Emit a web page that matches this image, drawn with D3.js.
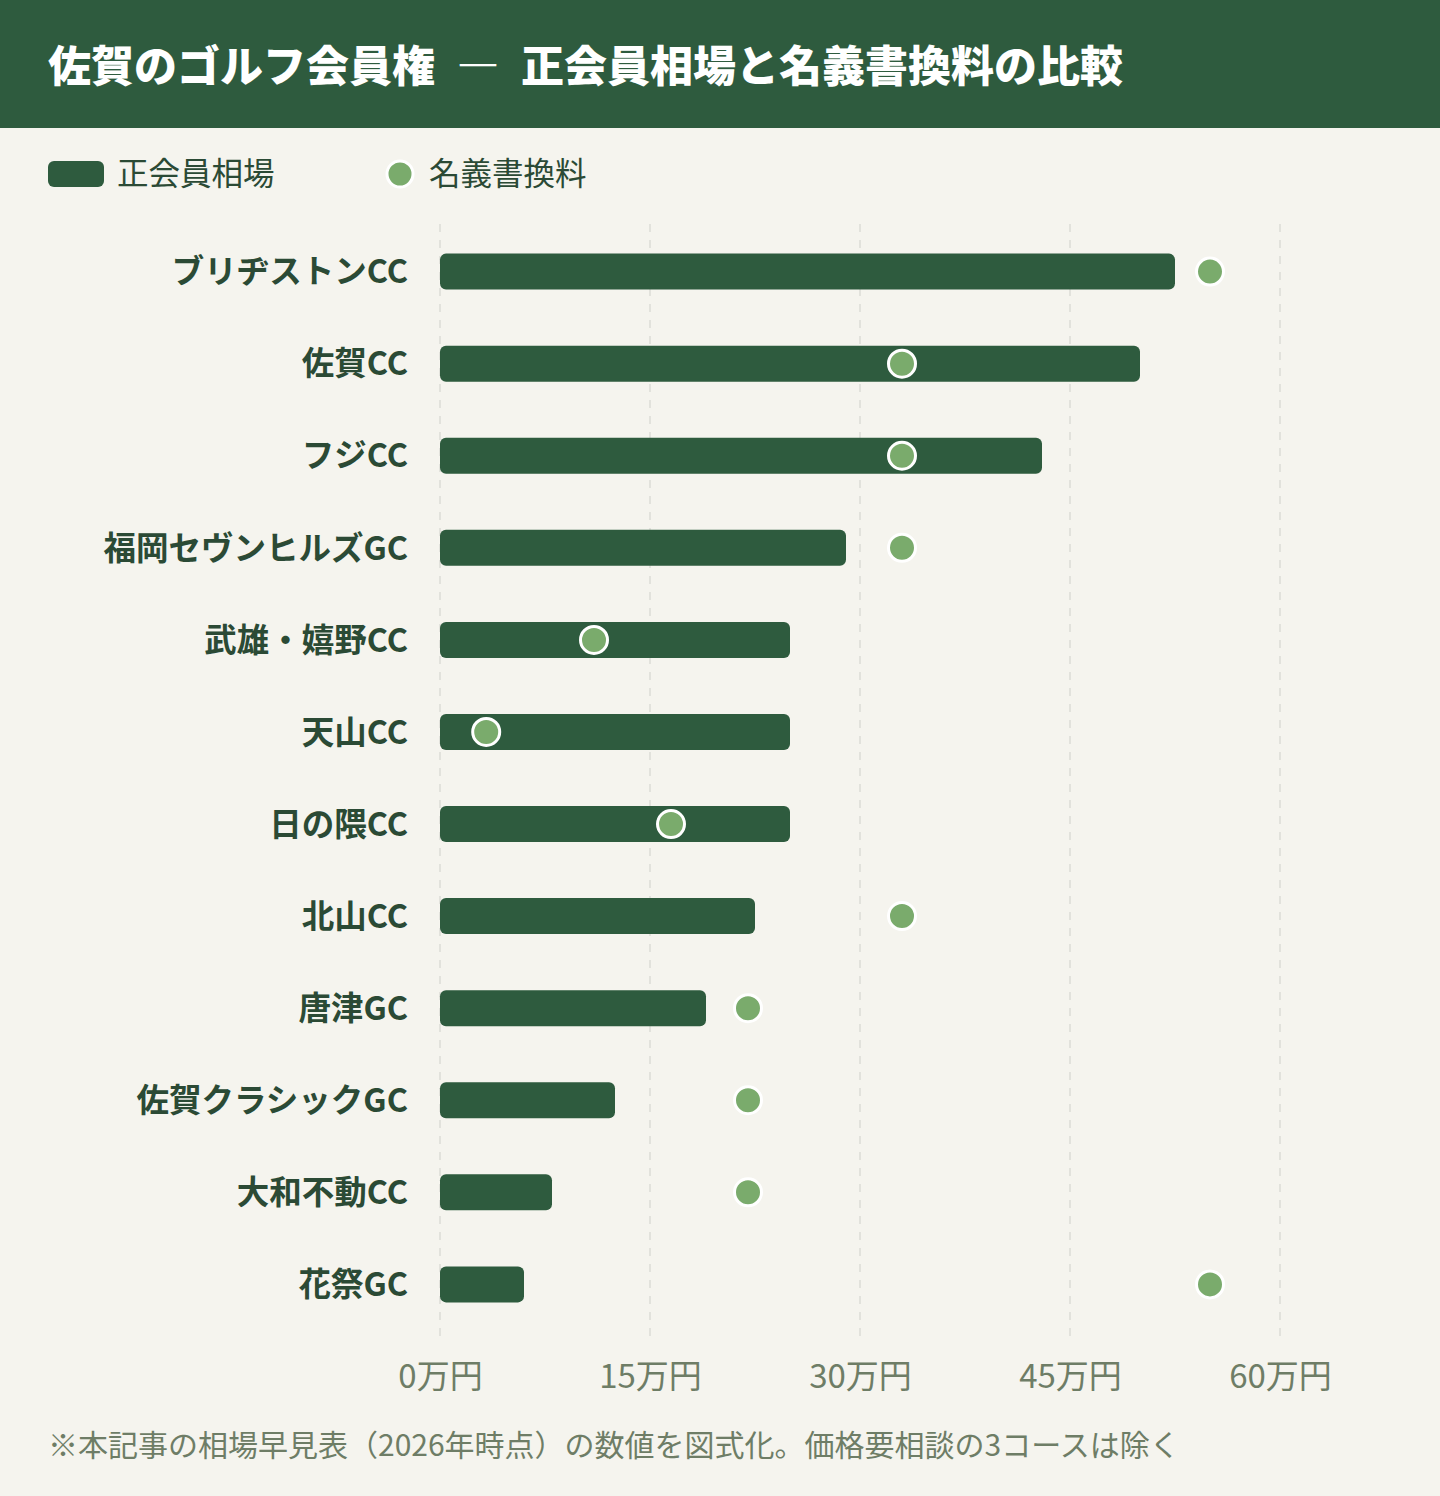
<!DOCTYPE html>
<html>
<head>
<meta charset="utf-8">
<script src="https://cdn.jsdelivr.net/npm/d3@7"></script>
<style>
  html, body { margin: 0; padding: 0; background: #f5f4ee; }
  body { font-family: "Noto Sans CJK JP", "Noto Sans", sans-serif; }
</style>
</head>
<body>
<div id="chart"></div>
<script>
// Course names, top to bottom
var courses = ["ブリヂストンCC", "佐賀CC", "フジCC", "福岡セヴンヒルズGC", "武雄・嬉野CC", "天山CC",
  "日の隈CC", "北山CC", "唐津GC", "佐賀クラシックGC", "大和不動CC", "花祭GC"];

// 正会員相場 (万円)
var memberPrice = [52.5, 50, 43, 29, 25, 25, 25, 22.5, 19, 12.5, 8, 6];

// 名義書換料 (万円)
var transferFee = [55, 33, 33, 33, 11, 3.3, 16.5, 33, 22, 22, 22, 55];

var tickValues = [0, 15, 30, 45, 60];

var seriesNames = ["正会員相場", "名義書換料"];

var width = 1440, height = 1496;
var darkGreen = "#2e5b3e", lightGreen = "#7aab6c", textGreen = "#2b4a35", grey = "#6e7d66";

var svg = d3.select("#chart")
    .append("svg")
    .attr("width", width)
    .attr("height", height);

svg.append("rect")
    .attr("width", width)
    .attr("height", height)
    .attr("fill", "#f5f4ee");

// Header band and title
svg.append("rect")
    .attr("width", width)
    .attr("height", 128)
    .attr("fill", darkGreen);

svg.append("text")
    .attr("x", 48)
    .attr("y", 82)
    .attr("fill", "#ffffff")
    .style("font-size", "43px")
    .style("font-weight", "900")
    .text("佐賀のゴルフ会員権\u2002―\u2002正会員相場と名義書換料の比較");

// Legend
var legend = svg.append("g");
legend.append("rect")
    .attr("x", 48).attr("y", 161)
    .attr("width", 56).attr("height", 26)
    .attr("rx", 6)
    .attr("fill", darkGreen);
legend.append("text")
    .attr("x", 117).attr("y", 185)
    .attr("fill", textGreen)
    .style("font-size", "31.5px")
    .text(seriesNames[0]);
legend.append("circle")
    .attr("cx", 400).attr("cy", 174).attr("r", 13)
    .attr("fill", lightGreen)
    .attr("stroke", "#ffffff")
    .attr("stroke-width", 3);
legend.append("text")
    .attr("x", 429).attr("y", 185)
    .attr("fill", textGreen)
    .style("font-size", "31.5px")
    .text(seriesNames[1]);

// Scales
var x = d3.scaleLinear()
    .domain([0, 60])
    .range([440, 1280]);

var y = d3.scaleBand()
    .domain(courses)
    .range([226, 1330])
    .paddingInner(0.609)
    .paddingOuter(0.3);

// Dashed grid lines
svg.append("g")
    .selectAll("line")
    .data(tickValues)
    .enter()
    .append("line")
    .attr("x1", function(d) { return x(d); })
    .attr("x2", function(d) { return x(d); })
    .attr("y1", 224)
    .attr("y2", 1336)
    .attr("stroke", "#dcdcd6")
    .attr("stroke-width", 1.5)
    .attr("stroke-dasharray", "8,8");

// X axis labels
var xAxis = d3.axisBottom(x)
    .tickValues(tickValues)
    .tickSize(0)
    .tickPadding(0)
    .tickFormat(function(d) { return d + "万円"; });

var axisG = svg.append("g")
    .attr("transform", "translate(0,1365)")
    .call(xAxis);
axisG.select(".domain").remove();
axisG.selectAll("text")
    .attr("fill", grey)
    .style("font-family", "'Noto Sans CJK JP', sans-serif")
    .style("font-size", "33px");

// Category labels
svg.append("g")
    .selectAll("text")
    .data(courses)
    .enter()
    .append("text")
    .attr("x", 408)
    .attr("y", function(d) { return y(d) + y.bandwidth() / 2; })
    .attr("dy", "0.36em")
    .attr("text-anchor", "end")
    .attr("fill", textGreen)
    .style("font-size", "32.5px")
    .style("font-weight", "700")
    .text(function(d) { return d; });

// Bars
svg.append("g")
    .selectAll("rect")
    .data(courses)
    .enter()
    .append("rect")
    .attr("x", x(0))
    .attr("y", function(d) { return y(d); })
    .attr("width", function(d, i) { return x(memberPrice[i]) - x(0); })
    .attr("height", y.bandwidth())
    .attr("rx", 6)
    .attr("fill", darkGreen);

// Transfer fee dots
svg.append("g")
    .selectAll("circle")
    .data(courses)
    .enter()
    .append("circle")
    .attr("cx", function(d, i) { return x(transferFee[i]); })
    .attr("cy", function(d) { return y(d) + y.bandwidth() / 2; })
    .attr("r", 13.5)
    .attr("fill", lightGreen)
    .attr("stroke", "#ffffff")
    .attr("stroke-width", 3);

// Footnote
svg.append("text")
    .attr("x", 48)
    .attr("y", 1456)
    .attr("fill", grey)
    .style("font-size", "30px")
    .text("※本記事の相場早見表（2026年時点）の数値を図式化。価格要相談の3コースは除く");
</script>
</body>
</html>
